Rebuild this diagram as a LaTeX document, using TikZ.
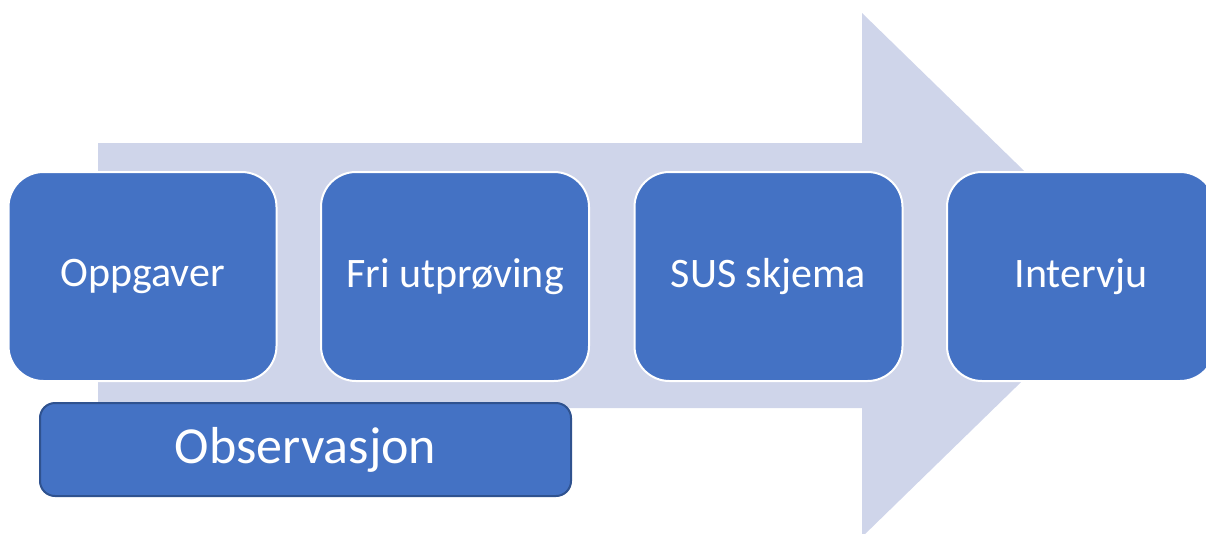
\documentclass[tikz,border=0pt]{standalone}
\usepackage{fontspec}
\setmainfont{Carlito}
\definecolor{stepblue}{HTML}{4472C4}
\definecolor{stepedge}{HTML}{2F528F}
\definecolor{arrowfill}{HTML}{CFD5EA}
\begin{document}
\begin{tikzpicture}[x=1pt,y=-1pt,
  stepbox/.style={rectangle, rounded corners=35pt, fill=stepblue, draw=white,
    line width=2pt, minimum width=268pt, minimum height=209pt, inner sep=0pt,
    text=white, font=\fontsize{42}{50}\selectfont},
  obsbox/.style={rectangle, rounded corners=15pt, fill=stepblue, draw=stepedge,
    line width=2pt, minimum width=531pt, minimum height=93pt, inner sep=0pt,
    text=white, font=\fontsize{52}{60}\selectfont}]
\useasboundingbox (0,0) rectangle (1206,533);
\clip (0,0) rectangle (1206,533);
% background process arrow
\fill[arrowfill] (98,143) -- (862,143) -- (862,13) -- (1131,275)
  -- (862,537) -- (862,408) -- (98,408) -- cycle;
% process steps
\node[stepbox] (oppg) at (142.5,276.5) {Oppgaver};
\node[stepbox] (fri)  at (455,276.5) {Fri utprøving};
\node[stepbox] (sus)  at (768.5,276.5) {SUS skjema};
\node[stepbox] (intv) at (1081,276.5) {Intervju};
% observation spanning the first two steps
\node[obsbox] (obs) at (305.5,449.5) {Observasjon};
\end{tikzpicture}
\end{document}
